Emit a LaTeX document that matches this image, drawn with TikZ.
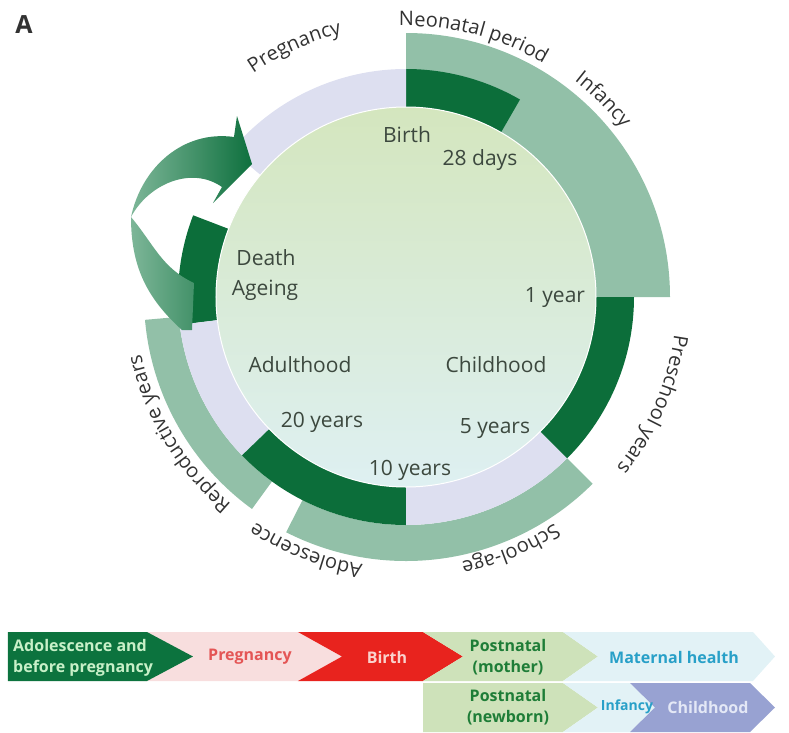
\documentclass[tikz,border=0pt]{standalone}
\usepackage{fontspec}
\setmainfont{Open Sans}
\usepackage{tikz}
\usetikzlibrary{decorations.text}

\definecolor{ringdark}{RGB}{12,110,58}
\definecolor{ringteal}{RGB}{146,192,168}
\definecolor{ringlilac}{RGB}{221,223,240}
\definecolor{disktop}{RGB}{212,230,190}
\definecolor{diskbot}{RGB}{222,240,242}
\definecolor{labgray}{RGB}{60,72,62}
\definecolor{outgray}{RGB}{50,50,50}
\definecolor{arrlight}{RGB}{125,182,152}
\definecolor{arrdark}{RGB}{14,112,62}
\definecolor{bargreen}{RGB}{12,115,62}
\definecolor{bargreentxt}{RGB}{200,240,200}
\definecolor{barpink}{RGB}{248,222,222}
\definecolor{barpinktxt}{RGB}{228,85,85}
\definecolor{barred}{RGB}{232,35,30}
\definecolor{barredtxt}{RGB}{250,210,205}
\definecolor{barsage}{RGB}{206,226,186}
\definecolor{barsagetxt}{RGB}{30,125,55}
\definecolor{barcyan}{RGB}{226,242,246}
\definecolor{barcyantxt}{RGB}{40,160,200}
\definecolor{barlav}{RGB}{152,162,210}
\definecolor{barlavtxt}{RGB}{228,232,246}

% ring piece: colour, inner r, outer r, from angle, to angle
\newcommand{\ringseg}[5]{\fill[#1] (#4:#2) arc[start angle=#4, end angle=#5, radius=#2]
  -- (#5:#3) arc[start angle=#5, end angle=#4, radius=#3] -- cycle;}
% text bent round the wheel, clockwise: from angle, to angle, radius, text
\newcommand{\outerfont}{\fontsize{20}{24}\selectfont}
\newcommand{\arclabel}[4]{\path[decorate, decoration={text along path, text align=center,
  text color=outgray, text={|\outerfont|#4}}] (#1:#3) arc[start angle=#1, end angle=#2, radius=#3];}
% chevron: colour, left x, notch x, right x, tip x, top y, bottom y
\newcommand{\chevron}[7]{\fill[#1] (#2,#6) -- (#4,#6) -- (#5,{(#6+#7)/2}) -- (#4,#7) -- (#2,#7)
  -- (#3,{(#6+#7)/2}) -- cycle;}

\begin{document}
\begin{tikzpicture}[x=1pt, y=1pt,
  inlab/.style={font=\fontsize{21}{24}\selectfont, text=labgray, anchor=base, inner sep=0pt},
  barlab/.style={font=\fontsize{16}{21}\selectfont\bfseries, align=center, inner sep=0pt}]
\useasboundingbox (-406,-435) rectangle (383,297);

% outer band: infancy, school-age, reproductive years
\ringseg{ringteal}{190}{264}{0}{90}
\ringseg{ringteal}{228}{264}{243}{315}
\ringseg{ringteal}{228}{262}{185}{234}

% middle band
\ringseg{ringdark}{190}{228}{60}{90}
\ringseg{ringlilac}{190}{228}{90}{140}
\ringseg{ringdark}{190}{228}{159}{187}
\ringseg{ringlilac}{190}{228}{187}{224}
\ringseg{ringdark}{190}{228}{224}{270}
\ringseg{ringlilac}{190}{228}{270}{315}
\ringseg{ringdark}{190}{228}{315}{360}

% centre disc
\shade[top color=disktop, bottom color=diskbot] (0,0) circle[radius=190];
\draw[white, line width=1pt] (0,0) circle[radius=190];

% curled arrow from death back to pregnancy
\shade[left color=arrlight, right color=arrdark]
  (-214,-33) -- (-212,14)
  to[out=155, in=-50] (-275,80)
  to[out=62, in=145] (-184,110)
  -- (-193,94) -- (-154,133) -- (-169,181) -- (-172,160)
  to[out=172, in=78] (-275,80)
  to[out=-90, in=138] (-224,-33)
  -- cycle;

% stage names round the wheel
\arclabel{144}{84}{271}{Pregnancy}
\arclabel{105}{46}{271}{Neonatal period}
\arclabel{70}{20}{274}{Infancy}
\arclabel{5}{-52}{271}{Preschool years}
\arclabel{-40}{-95}{271}{School-age}
\arclabel{-85}{-138}{271}{Adolescence}
\arclabel{245}{177}{271}{Reproductive years}

% ages and phases inside
\node[inlab] (birth) at (1,155) {Birth};
\node[inlab] (days28) at (74,132) {28 days};
\node[inlab] (year1) at (149,-5) {1 year};
\node[inlab] (death) at (-140,32) {Death};
\node[inlab] (ageing) at (-141,2) {Ageing};
\node[inlab] (adult) at (-106,-75) {Adulthood};
\node[inlab] (years20) at (-84,-130) {20 years};
\node[inlab] (years10) at (4,-178) {10 years};
\node[inlab] (child) at (90,-75) {Childhood};
\node[inlab] (years5) at (89,-136) {5 years};

\node[font=\fontsize{25}{28}\selectfont\bfseries, text=outgray] (panel) at (-382,272) {A};

% continuum of care strip
\chevron{barpink}{-266}{-266}{-108}{-64}{-335}{-384}
\chevron{bargreen}{-398}{-398}{-259}{-213}{-335}{-384}
\chevron{barred}{-108}{-64}{17}{57}{-335}{-384}
\chevron{barsage}{17}{57}{157}{192}{-335}{-384}
\chevron{barcyan}{157}{192}{347}{369}{-335}{-384}
\chevron{barsage}{17}{17}{157}{192}{-386}{-435}
\chevron{barcyan}{157}{192}{224}{249}{-386}{-435}
\chevron{barlav}{224}{249}{344}{369}{-386}{-435}

\node[barlab, align=left, anchor=west, text=bargreentxt] (adolbar) at (-393,-361) {Adolescence and\\before pregnancy};
\node[barlab, text=barpinktxt] (pregbar) at (-156,-360) {Pregnancy};
\node[barlab, text=barredtxt] (birthbar) at (-19,-360) {Birth};
\node[barlab, text=barsagetxt] (mothbar) at (102,-360) {Postnatal\\(mother)};
\node[barlab, text=barcyantxt] (matbar) at (268,-360) {Maternal health};
\node[barlab, text=barsagetxt] (newbar) at (102,-410) {Postnatal\\(newborn)};
\node[barlab, font=\fontsize{14}{18}\selectfont\bfseries, text=barcyantxt] (infbar) at (221,-410) {Infancy};
\node[barlab, text=barlavtxt] (childbar) at (302,-410) {Childhood};
\end{tikzpicture}
\end{document}
